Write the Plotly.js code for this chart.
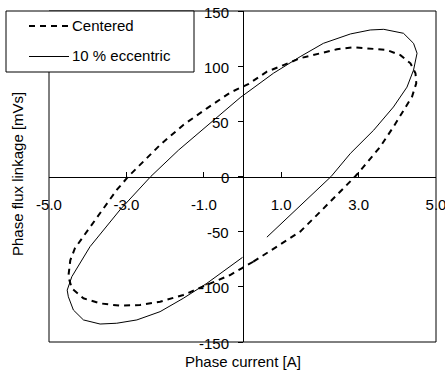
<!DOCTYPE html>
<html>
<head>
<meta charset="utf-8">
<script src="https://cdn.plot.ly/plotly-3.0.1.min.js"></script>
<style>
html,body{margin:0;padding:0;background:#fff;}
#chart{width:445px;height:379px;}
</style>
</head>
<body>
<div id="chart"></div>
<script>
// ---- Data ----
var seriesNames = ["Centered", "10 % eccentric"];

var centeredCurrent = [0.28, 0.89, 1.49, 2.01, 2.35, 2.70, 2.91, 3.13, 3.56, 3.90, 4.16, 4.38, 4.49, 4.47, 4.34, 4.08, 3.73, 3.30, 2.87, 2.44, 2.01, 1.49, 1.06, 0.63, 0.16, -0.32, -0.92, -1.53, -2.13, -2.47, -2.65, -2.95, -3.25, -3.68, -4.11, -4.33, -4.45, -4.50, -4.41, -4.11, -3.68, -3.16, -2.65, -2.13, -1.53, -1.01, -0.32, -0.02, 0.28];
var centeredFlux    = [-77.2, -63.6, -50.0, -31.9, -19.8, -7.7, 0.0, 8.9, 27.0, 45.0, 60.3, 72.3, 84.5, 93.6, 102.6, 110.0, 114.7, 116.2, 117.1, 115.3, 111.7, 107.2, 101.0, 95.0, 84.0, 76.0, 61.8, 46.7, 28.6, 16.5, 10.5, 0.0, -12.2, -33.4, -54.6, -65.0, -76.0, -90.8, -101.4, -110.4, -115.0, -117.1, -116.5, -113.5, -107.4, -99.9, -89.3, -83.2, -77.2];

var eccentricCurrent = [0.63, 1.45, 2.29, 2.79, 3.39, 3.90, 4.25, 4.42, 4.51, 4.42, 4.16, 3.65, 3.30, 2.79, 2.09, 1.49, 0.80, -0.06, -1.27, -1.65, -2.37, -3.16, -3.94, -4.41, -4.53, -4.50, -4.37, -4.11, -3.68, -3.25, -2.73, -2.13, -1.53, -0.92, 0.00];
var eccentricFlux    = [-55.0, -28.0, 0.0, 21.0, 42.0, 63.0, 81.0, 96.5, 111.7, 120.7, 129.8, 133.4, 132.8, 129.2, 120.7, 108.6, 93.6, 71.5, 36.0, 24.0, 0.0, -30.0, -63.6, -90.8, -103.0, -109.0, -121.0, -130.0, -133.7, -133.0, -130.0, -122.5, -110.4, -96.8, -73.3];

var xTickValues = [-5, -3, -1, 1, 3, 5];
var xTickLabels = ["-5.0", "-3.0", "-1.0", "1.0", "3.0", "5.0"];
var yTickValues = [-150, -100, -50, 0, 50, 100, 150];
var yTickLabels = ["-150", "-100", "-50", "0", "50", "100", "150"];

var xTitle = "Phase current [A]";
var yTitle = "Phase flux linkage [mVs]";

// ---- Layout helpers (pixel -> paper) ----
var W = 445, H = 379;
var M = {l: 49, r: 9, t: 11, b: 37};
var PW = W - M.l - M.r, PH = H - M.t - M.b;
function pxX(p) { return (p - M.l) / PW; }
function pxY(p) { return (H - M.b - p) / PH; }

var FONT = "Liberation Sans, Arial, sans-serif";
var dashStyle = "6px,5px";
var tickFont = {family: FONT, size: 15, color: "#000"};

var traces = [
  {
    x: centeredCurrent, y: centeredFlux, name: seriesNames[0],
    type: "scatter", mode: "lines", showlegend: false,
    line: {color: "#000", width: 2, dash: dashStyle}
  },
  {
    x: eccentricCurrent, y: eccentricFlux, name: seriesNames[1],
    type: "scatter", mode: "lines", showlegend: false,
    line: {color: "#000", width: 1}
  }
];

var annotations = [
  {text: seriesNames[0], xref: "paper", yref: "paper", x: pxX(70), y: pxY(26),
   xanchor: "left", yanchor: "middle", showarrow: false, font: tickFont},
  {text: seriesNames[1], xref: "paper", yref: "paper", x: pxX(70), y: pxY(56),
   xanchor: "left", yanchor: "middle", showarrow: false, font: tickFont},
  {text: xTitle, xref: "paper", yref: "paper", x: pxX(242.5), y: pxY(361),
   xanchor: "center", yanchor: "middle", showarrow: false, font: tickFont},
  {text: yTitle, xref: "paper", yref: "paper", x: pxX(17), y: pxY(174),
   xanchor: "center", yanchor: "middle", showarrow: false, textangle: -90, font: tickFont}
];
// y tick labels placed left of the centred y axis (at x = 0)
yTickValues.forEach(function (v, i) {
  annotations.push({
    text: yTickLabels[i], xref: "x", yref: "y", x: 0, y: v,
    xanchor: "right", yanchor: "middle", xshift: -12, yshift: -1,
    showarrow: false, font: tickFont
  });
});

var layout = {
  width: W, height: H,
  margin: M,
  paper_bgcolor: "#fff", plot_bgcolor: "#fff",
  font: tickFont,
  showlegend: false,
  xaxis: {
    range: [-5, 5], anchor: "free", position: 0.5,
    tickmode: "array", tickvals: xTickValues, ticktext: xTickLabels,
    ticks: "inside", ticklen: 5, tickwidth: 1, tickcolor: "#000",
    ticklabelstandoff: 14, ticklabeloverflow: "allow",
    showline: true, linecolor: "#000", linewidth: 1,
    showgrid: false, zeroline: false,
    tickfont: tickFont, fixedrange: true
  },
  yaxis: {
    range: [-150, 150], anchor: "free", position: 0.5,
    tickmode: "array", tickvals: yTickValues,
    showticklabels: false,
    ticks: "outside", ticklen: 5, tickwidth: 1, tickcolor: "#000",
    showline: true, linecolor: "#000", linewidth: 1,
    showgrid: false, zeroline: false, fixedrange: true
  },
  shapes: [
    {type: "rect", xref: "paper", yref: "paper", x0: 0, x1: 1, y0: 0, y1: 1,
     line: {color: "#000", width: 1}, fillcolor: "rgba(0,0,0,0)", layer: "above"},
    {type: "rect", xref: "paper", yref: "paper",
     x0: pxX(6), x1: pxX(194), y0: pxY(72), y1: pxY(11),
     line: {color: "#000", width: 1}, fillcolor: "#fff", layer: "above"},
    {type: "line", xref: "paper", yref: "paper",
     x0: pxX(29), x1: pxX(69), y0: pxY(26), y1: pxY(26),
     line: {color: "#000", width: 2, dash: dashStyle}, layer: "above"},
    {type: "line", xref: "paper", yref: "paper",
     x0: pxX(29), x1: pxX(69), y0: pxY(56.5), y1: pxY(56.5),
     line: {color: "#000", width: 1}, layer: "above"}
  ],
  annotations: annotations
};

Plotly.newPlot("chart", traces, layout, {staticPlot: true, displayModeBar: false});
</script>
</body>
</html>
